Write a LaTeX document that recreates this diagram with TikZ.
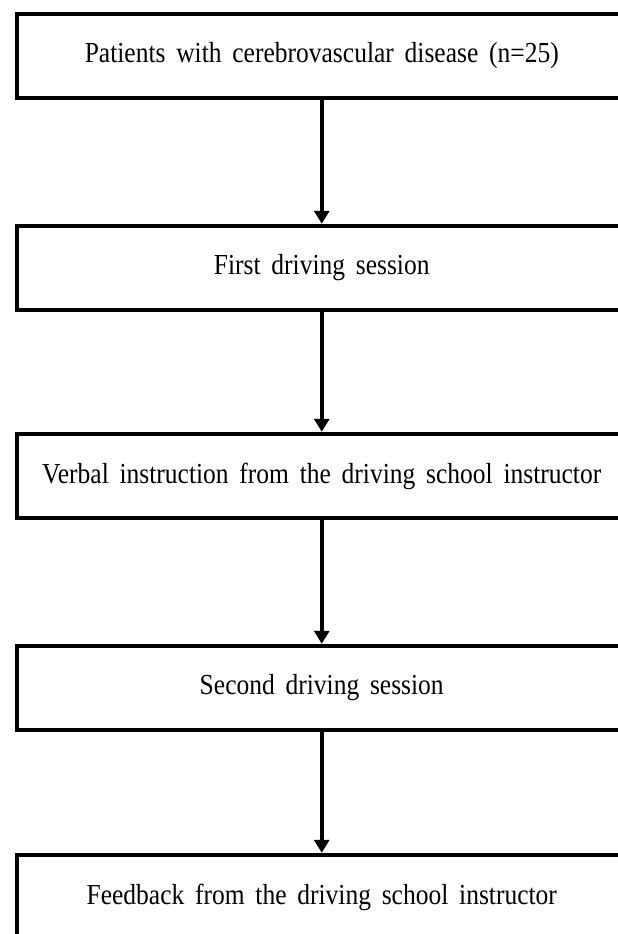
\documentclass[tikz,border=0pt]{standalone}
\usepackage{fontspec}
\setmainfont[FakeStretch=0.88]{Liberation Serif}
\usetikzlibrary{arrows.meta}

\newcommand{\boxfont}{\fontsize{29}{34}\selectfont\spaceskip=0.37em plus 0.1em\relax}

\tikzset{
	stepbox/.style={draw, line width=4.5pt, minimum width=610pt, minimum height=84pt, inner sep=0pt},
	flow/.style={-{Triangle[width=15pt, length=13pt]}, line width=4.5pt}
}

\begin{document}
\begin{tikzpicture}[x=1pt, y=-1pt, line join=miter]
	% 1. Page frame
	\useasboundingbox (0,0) rectangle (618,934);
	\clip (0,0) rectangle (618,934);
	
	% 2. Boxes
	\node[stepbox] (patients) at (321.75,56) {\boxfont Patients with cerebrovascular disease (n=25)};
	\node[stepbox] (first) at (321.75,268) {\boxfont First driving session};
	\node[stepbox] (verbal) at (321.75,476) {\boxfont Verbal instruction from the driving school instructor};
	\node[stepbox] (second) at (321.75,688) {\boxfont Second driving session};
	\node[stepbox] (feedback) at (321.75,897) {\boxfont Feedback from the driving school instructor};
	
	% 3. Arrows
	\foreach \a/\b in {patients/first, first/verbal, verbal/second, second/feedback} {
		\draw[flow] (\a) -- (\b);
	}
\end{tikzpicture}
\end{document}
